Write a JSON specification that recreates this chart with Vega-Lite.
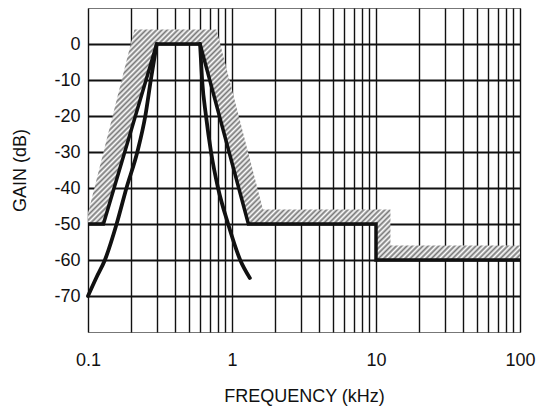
{
  "$schema": "https://vega.github.io/schema/vega-lite/v6.json",
  "width": 432,
  "height": 324,
  "autosize": "none",
  "padding": {"left": 88, "top": 8, "right": 16, "bottom": 76},
  "background": "white",
  "config": {
    "view": {"stroke": "#777777", "strokeWidth": 1},
    "font": "Liberation Sans",
    "axis": {
      "domain": false,
      "ticks": false,
      "grid": true,
      "gridColor": "#111111",
      "gridWidth": 1.4,
      "gridOpacity": 1,
      "labelFont": "Liberation Sans",
      "labelFontSize": 18,
      "labelColor": "#111111",
      "titleFont": "Liberation Sans",
      "titleFontSize": 18,
      "titleFontWeight": "normal",
      "titleColor": "#111111",
      "labelOverlap": false,
      "labelFlush": false
    }
  },
  "datasets": {
    "hatch": [
      {"f": 0.1, "hi": -47, "lo": -50},
      {"f": 0.128, "hi": -30.1, "lo": -50},
      {"f": 0.21, "hi": 4, "lo": -21},
      {"f": 0.3, "hi": 4, "lo": 0},
      {"f": 0.6, "hi": 4, "lo": 0},
      {"f": 0.78, "hi": 4, "lo": -17},
      {"f": 1.3, "hi": -30.4, "lo": -50},
      {"f": 1.64, "hi": -46, "lo": -50},
      {"f": 10, "hi": -46, "lo": -50},
      {"f": 10.001, "hi": -46, "lo": -60},
      {"f": 12.6, "hi": -46, "lo": -60},
      {"f": 12.601, "hi": -56, "lo": -60},
      {"f": 100, "hi": -56, "lo": -60}
    ],
    "mask": [
      {"i": 0, "f": 0.1, "g": -50},
      {"i": 1, "f": 0.128, "g": -50},
      {"i": 2, "f": 0.3, "g": 0},
      {"i": 3, "f": 0.6, "g": 0},
      {"i": 4, "f": 1.3, "g": -50},
      {"i": 5, "f": 10, "g": -50},
      {"i": 6, "f": 10, "g": -60},
      {"i": 7, "f": 100, "g": -60}
    ],
    "filter": [
      {"b": "low", "f": 0.1, "g": -70},
      {"b": "low", "f": 0.114, "g": -65},
      {"b": "low", "f": 0.131, "g": -60},
      {"b": "low", "f": 0.158, "g": -50},
      {"b": "low", "f": 0.185, "g": -40},
      {"b": "low", "f": 0.22, "g": -30},
      {"b": "low", "f": 0.25, "g": -20},
      {"b": "low", "f": 0.273, "g": -10},
      {"b": "low", "f": 0.3, "g": 0},
      {"b": "high", "f": 0.6, "g": 0},
      {"b": "high", "f": 0.62, "g": -10},
      {"b": "high", "f": 0.66, "g": -20},
      {"b": "high", "f": 0.715, "g": -30},
      {"b": "high", "f": 0.8, "g": -40},
      {"b": "high", "f": 0.94, "g": -50},
      {"b": "high", "f": 1.14, "g": -60},
      {"b": "high", "f": 1.33, "g": -65}
    ]
  },
  "layer": [
    {
      "data": {"name": "hatch"},
      "mark": {
        "type": "area",
        "opacity": 1,
        "color": {
          "gradient": "linear",
          "x1": 0, "y1": 0, "x2": 1.194, "y2": 0.637,
          "stops": [
            {"offset": 0, "color": "#777"}, {"offset": 0.004, "color": "#fff"}, {"offset": 0.008, "color": "#777"}, {"offset": 0.012, "color": "#fff"}, {"offset": 0.016, "color": "#777"}, {"offset": 0.02, "color": "#fff"}, {"offset": 0.024, "color": "#777"}, {"offset": 0.028, "color": "#fff"}, {"offset": 0.032, "color": "#777"}, {"offset": 0.036, "color": "#fff"},
            {"offset": 0.04, "color": "#777"}, {"offset": 0.044, "color": "#fff"}, {"offset": 0.048, "color": "#777"}, {"offset": 0.052, "color": "#fff"}, {"offset": 0.056, "color": "#777"}, {"offset": 0.06, "color": "#fff"}, {"offset": 0.064, "color": "#777"}, {"offset": 0.068, "color": "#fff"}, {"offset": 0.072, "color": "#777"}, {"offset": 0.076, "color": "#fff"},
            {"offset": 0.08, "color": "#777"}, {"offset": 0.084, "color": "#fff"}, {"offset": 0.088, "color": "#777"}, {"offset": 0.092, "color": "#fff"}, {"offset": 0.096, "color": "#777"}, {"offset": 0.1, "color": "#fff"}, {"offset": 0.104, "color": "#777"}, {"offset": 0.108, "color": "#fff"}, {"offset": 0.112, "color": "#777"}, {"offset": 0.116, "color": "#fff"},
            {"offset": 0.12, "color": "#777"}, {"offset": 0.124, "color": "#fff"}, {"offset": 0.128, "color": "#777"}, {"offset": 0.132, "color": "#fff"}, {"offset": 0.136, "color": "#777"}, {"offset": 0.14, "color": "#fff"}, {"offset": 0.144, "color": "#777"}, {"offset": 0.148, "color": "#fff"}, {"offset": 0.152, "color": "#777"}, {"offset": 0.156, "color": "#fff"},
            {"offset": 0.16, "color": "#777"}, {"offset": 0.164, "color": "#fff"}, {"offset": 0.168, "color": "#777"}, {"offset": 0.172, "color": "#fff"}, {"offset": 0.176, "color": "#777"}, {"offset": 0.18, "color": "#fff"}, {"offset": 0.184, "color": "#777"}, {"offset": 0.188, "color": "#fff"}, {"offset": 0.192, "color": "#777"}, {"offset": 0.196, "color": "#fff"},
            {"offset": 0.2, "color": "#777"}, {"offset": 0.204, "color": "#fff"}, {"offset": 0.208, "color": "#777"}, {"offset": 0.212, "color": "#fff"}, {"offset": 0.216, "color": "#777"}, {"offset": 0.22, "color": "#fff"}, {"offset": 0.224, "color": "#777"}, {"offset": 0.228, "color": "#fff"}, {"offset": 0.232, "color": "#777"}, {"offset": 0.236, "color": "#fff"},
            {"offset": 0.24, "color": "#777"}, {"offset": 0.244, "color": "#fff"}, {"offset": 0.248, "color": "#777"}, {"offset": 0.252, "color": "#fff"}, {"offset": 0.256, "color": "#777"}, {"offset": 0.26, "color": "#fff"}, {"offset": 0.264, "color": "#777"}, {"offset": 0.268, "color": "#fff"}, {"offset": 0.272, "color": "#777"}, {"offset": 0.276, "color": "#fff"},
            {"offset": 0.28, "color": "#777"}, {"offset": 0.284, "color": "#fff"}, {"offset": 0.288, "color": "#777"}, {"offset": 0.292, "color": "#fff"}, {"offset": 0.296, "color": "#777"}, {"offset": 0.3, "color": "#fff"}, {"offset": 0.304, "color": "#777"}, {"offset": 0.308, "color": "#fff"}, {"offset": 0.312, "color": "#777"}, {"offset": 0.316, "color": "#fff"},
            {"offset": 0.32, "color": "#777"}, {"offset": 0.324, "color": "#fff"}, {"offset": 0.328, "color": "#777"}, {"offset": 0.332, "color": "#fff"}, {"offset": 0.336, "color": "#777"}, {"offset": 0.34, "color": "#fff"}, {"offset": 0.344, "color": "#777"}, {"offset": 0.348, "color": "#fff"}, {"offset": 0.352, "color": "#777"}, {"offset": 0.356, "color": "#fff"},
            {"offset": 0.36, "color": "#777"}, {"offset": 0.364, "color": "#fff"}, {"offset": 0.368, "color": "#777"}, {"offset": 0.372, "color": "#fff"}, {"offset": 0.376, "color": "#777"}, {"offset": 0.38, "color": "#fff"}, {"offset": 0.384, "color": "#777"}, {"offset": 0.388, "color": "#fff"}, {"offset": 0.392, "color": "#777"}, {"offset": 0.396, "color": "#fff"},
            {"offset": 0.4, "color": "#777"}, {"offset": 0.404, "color": "#fff"}, {"offset": 0.408, "color": "#777"}, {"offset": 0.412, "color": "#fff"}, {"offset": 0.416, "color": "#777"}, {"offset": 0.42, "color": "#fff"}, {"offset": 0.424, "color": "#777"}, {"offset": 0.428, "color": "#fff"}, {"offset": 0.432, "color": "#777"}, {"offset": 0.436, "color": "#fff"},
            {"offset": 0.44, "color": "#777"}, {"offset": 0.444, "color": "#fff"}, {"offset": 0.448, "color": "#777"}, {"offset": 0.452, "color": "#fff"}, {"offset": 0.456, "color": "#777"}, {"offset": 0.46, "color": "#fff"}, {"offset": 0.464, "color": "#777"}, {"offset": 0.468, "color": "#fff"}, {"offset": 0.472, "color": "#777"}, {"offset": 0.476, "color": "#fff"},
            {"offset": 0.48, "color": "#777"}, {"offset": 0.484, "color": "#fff"}, {"offset": 0.488, "color": "#777"}, {"offset": 0.492, "color": "#fff"}, {"offset": 0.496, "color": "#777"}, {"offset": 0.5, "color": "#fff"}, {"offset": 0.504, "color": "#777"}, {"offset": 0.508, "color": "#fff"}, {"offset": 0.512, "color": "#777"}, {"offset": 0.516, "color": "#fff"},
            {"offset": 0.52, "color": "#777"}, {"offset": 0.524, "color": "#fff"}, {"offset": 0.528, "color": "#777"}, {"offset": 0.532, "color": "#fff"}, {"offset": 0.536, "color": "#777"}, {"offset": 0.54, "color": "#fff"}, {"offset": 0.544, "color": "#777"}, {"offset": 0.548, "color": "#fff"}, {"offset": 0.552, "color": "#777"}, {"offset": 0.556, "color": "#fff"},
            {"offset": 0.56, "color": "#777"}, {"offset": 0.564, "color": "#fff"}, {"offset": 0.568, "color": "#777"}, {"offset": 0.572, "color": "#fff"}, {"offset": 0.576, "color": "#777"}, {"offset": 0.58, "color": "#fff"}, {"offset": 0.584, "color": "#777"}, {"offset": 0.588, "color": "#fff"}, {"offset": 0.592, "color": "#777"}, {"offset": 0.596, "color": "#fff"},
            {"offset": 0.6, "color": "#777"}, {"offset": 0.604, "color": "#fff"}, {"offset": 0.608, "color": "#777"}, {"offset": 0.612, "color": "#fff"}, {"offset": 0.616, "color": "#777"}, {"offset": 0.62, "color": "#fff"}, {"offset": 0.624, "color": "#777"}, {"offset": 0.628, "color": "#fff"}, {"offset": 0.632, "color": "#777"}, {"offset": 0.636, "color": "#fff"},
            {"offset": 0.64, "color": "#777"}, {"offset": 0.644, "color": "#fff"}, {"offset": 0.648, "color": "#777"}, {"offset": 0.652, "color": "#fff"}, {"offset": 0.656, "color": "#777"}, {"offset": 0.66, "color": "#fff"}, {"offset": 0.664, "color": "#777"}, {"offset": 0.668, "color": "#fff"}, {"offset": 0.672, "color": "#777"}, {"offset": 0.676, "color": "#fff"},
            {"offset": 0.68, "color": "#777"}, {"offset": 0.684, "color": "#fff"}, {"offset": 0.688, "color": "#777"}, {"offset": 0.692, "color": "#fff"}, {"offset": 0.696, "color": "#777"}, {"offset": 0.7, "color": "#fff"}, {"offset": 0.704, "color": "#777"}, {"offset": 0.708, "color": "#fff"}, {"offset": 0.712, "color": "#777"}, {"offset": 0.716, "color": "#fff"},
            {"offset": 0.72, "color": "#777"}, {"offset": 0.724, "color": "#fff"}, {"offset": 0.728, "color": "#777"}, {"offset": 0.732, "color": "#fff"}, {"offset": 0.736, "color": "#777"}, {"offset": 0.74, "color": "#fff"}, {"offset": 0.744, "color": "#777"}, {"offset": 0.748, "color": "#fff"}, {"offset": 0.752, "color": "#777"}, {"offset": 0.756, "color": "#fff"},
            {"offset": 0.76, "color": "#777"}, {"offset": 0.764, "color": "#fff"}, {"offset": 0.768, "color": "#777"}, {"offset": 0.772, "color": "#fff"}, {"offset": 0.776, "color": "#777"}, {"offset": 0.78, "color": "#fff"}, {"offset": 0.784, "color": "#777"}, {"offset": 0.788, "color": "#fff"}, {"offset": 0.792, "color": "#777"}, {"offset": 0.796, "color": "#fff"},
            {"offset": 0.8, "color": "#777"}, {"offset": 0.804, "color": "#fff"}, {"offset": 0.808, "color": "#777"}, {"offset": 0.812, "color": "#fff"}, {"offset": 0.816, "color": "#777"}, {"offset": 0.82, "color": "#fff"}, {"offset": 0.824, "color": "#777"}, {"offset": 0.828, "color": "#fff"}, {"offset": 0.832, "color": "#777"}, {"offset": 0.836, "color": "#fff"},
            {"offset": 0.84, "color": "#777"}, {"offset": 0.844, "color": "#fff"}, {"offset": 0.848, "color": "#777"}, {"offset": 0.852, "color": "#fff"}, {"offset": 0.856, "color": "#777"}, {"offset": 0.86, "color": "#fff"}, {"offset": 0.864, "color": "#777"}, {"offset": 0.868, "color": "#fff"}, {"offset": 0.872, "color": "#777"}, {"offset": 0.876, "color": "#fff"},
            {"offset": 0.88, "color": "#777"}, {"offset": 0.884, "color": "#fff"}, {"offset": 0.888, "color": "#777"}, {"offset": 0.892, "color": "#fff"}, {"offset": 0.896, "color": "#777"}, {"offset": 0.9, "color": "#fff"}, {"offset": 0.904, "color": "#777"}, {"offset": 0.908, "color": "#fff"}, {"offset": 0.912, "color": "#777"}, {"offset": 0.916, "color": "#fff"},
            {"offset": 0.92, "color": "#777"}, {"offset": 0.924, "color": "#fff"}, {"offset": 0.928, "color": "#777"}, {"offset": 0.932, "color": "#fff"}, {"offset": 0.936, "color": "#777"}, {"offset": 0.94, "color": "#fff"}, {"offset": 0.944, "color": "#777"}, {"offset": 0.948, "color": "#fff"}, {"offset": 0.952, "color": "#777"}, {"offset": 0.956, "color": "#fff"},
            {"offset": 0.96, "color": "#777"}, {"offset": 0.964, "color": "#fff"}, {"offset": 0.968, "color": "#777"}, {"offset": 0.972, "color": "#fff"}, {"offset": 0.976, "color": "#777"}, {"offset": 0.98, "color": "#fff"}, {"offset": 0.984, "color": "#777"}, {"offset": 0.988, "color": "#fff"}, {"offset": 0.992, "color": "#777"}, {"offset": 0.996, "color": "#fff"},
            {"offset": 1, "color": "#777"}
          ]
        }
      },
      "encoding": {
        "x": {
          "field": "f",
          "type": "quantitative",
          "scale": {"type": "log", "domain": [0.1, 100], "nice": false},
          "axis": {
            "title": "FREQUENCY (kHz)",
            "values": [0.1, 0.2, 0.3, 0.4, 0.5, 0.6, 0.7, 0.8, 0.9, 1, 2, 3, 4, 5, 6, 7, 8, 9, 10, 20, 30, 40, 50, 60, 70, 80, 90, 100],
            "format": "~g",
            "labelExpr": "(datum.value == 0.1 || datum.value == 1 || datum.value == 10 || datum.value == 100) ? datum.label : ''",
            "labelPadding": 19,
            "titlePadding": 18
          }
        },
        "y": {
          "field": "hi",
          "type": "quantitative",
          "scale": {"domain": [-80, 10], "nice": false},
          "axis": {
            "title": "GAIN (dB)",
            "values": [-70, -60, -50, -40, -30, -20, -10, 0],
            "labelExpr": "datum.value < 0 ? '-' + abs(datum.value) : '0'",
            "labelPadding": 8,
            "titlePadding": 24,
            "gridWidth": 1.8
          }
        },
        "y2": {"field": "lo"}
      }
    },
    {
      "data": {"name": "mask"},
      "mark": {"type": "line", "color": "#111111", "strokeWidth": 3.5},
      "encoding": {
        "x": {"field": "f", "type": "quantitative"},
        "y": {"field": "g", "type": "quantitative"},
        "order": {"field": "i"}
      }
    },
    {
      "data": {"name": "filter"},
      "mark": {"type": "line", "color": "#111111", "strokeWidth": 3.8, "strokeCap": "round", "interpolate": "monotone"},
      "encoding": {
        "x": {"field": "f", "type": "quantitative"},
        "y": {"field": "g", "type": "quantitative"},
        "detail": {"field": "b"}
      }
    }
  ]
}
